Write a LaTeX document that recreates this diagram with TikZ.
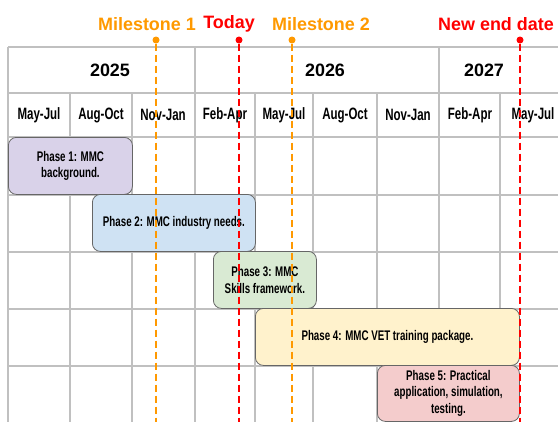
\documentclass[tikz,border=0pt]{standalone}
\usepackage{fontspec}
\setmainfont{Liberation Sans}
\newfontfamily\narrowfont[FakeStretch=0.7]{Liberation Sans}
\usetikzlibrary{positioning}
\definecolor{msorange}{HTML}{FF9900}
\definecolor{msred}{HTML}{FF0000}
\definecolor{gridgray}{HTML}{C0C0C0}
\definecolor{boxedge}{HTML}{666666}
\definecolor{phpurple}{HTML}{D9D2E9}
\definecolor{phblue}{HTML}{CFE2F3}
\definecolor{phgreen}{HTML}{D9EAD3}
\definecolor{phyellow}{HTML}{FFF2CC}
\definecolor{phred}{HTML}{F4CCCC}

\begin{document}
\begin{tikzpicture}[
    x=1bp, y=-1bp,
    gridline/.style={gridgray, line width=1.2bp},
    yearlbl/.style={font=\fontsize{18}{20}\selectfont\bfseries},
    monthlbl/.style={font=\narrowfont\fontsize{16.5}{18}\selectfont\bfseries},
    phase/.style={rectangle, rounded corners=8bp, fill=#1, draw=boxedge, line width=0.8bp, anchor=north west, align=center, inner sep=2bp, font=\narrowfont\fontsize{14}{17}\selectfont\bfseries},
    msline/.style={#1, line width=1.8bp, dash pattern=on 7bp off 4bp},
    msdot/.style={circle, fill=#1, inner sep=0pt, minimum size=7bp},
    mslbl/.style={font=\fontsize{18}{20}\selectfont\bfseries, text=#1}
  ]
  \clip (0,0) rectangle (558,422);

  % Grid lines
  \foreach \y in {47,93,137,195,252,309,366} {
    \draw[gridline] (8,\y) -- (562,\y);
  }
  \foreach \x in {8,195,439} {
    \draw[gridline] (\x,47) -- (\x,422);
  }
  \foreach \x in {70,132,255,313,377,500} {
    \draw[gridline] (\x,93) -- (\x,422);
  }

  % Years
  \node[yearlbl] (y2025) at (110,70) {2025};
  \node[yearlbl] (y2026) at (325,70) {2026};
  \node[yearlbl] (y2027) at (484,70) {2027};

  % Quarters
  \foreach \x/\m [count=\i] in {39/May-Jul, 101/Aug-Oct, 163/Nov-Jan, 225/Feb-Apr, 284/May-Jul, 345/Aug-Oct, 408/Nov-Jan, 470/Feb-Apr, 533/May-Jul} {
    \node[monthlbl] (q\i) at (\x,115) {\m};
  }

  % Phases
  \node[phase=phpurple, minimum width=124bp, minimum height=57bp] (ph1) at (8,137) {Phase 1: MMC\\background.};
  \node[phase=phblue, minimum width=163bp, minimum height=57bp] (ph2) at (92,194) {Phase 2: MMC industry needs.};
  \node[phase=phgreen, minimum width=103bp, minimum height=57bp] (ph3) at (213,251) {Phase 3: MMC\\Skills framework.};
  \node[phase=phyellow, minimum width=264bp, minimum height=57bp] (ph4) at (255,308) {Phase 4: MMC VET training package.};
  \node[phase=phred, minimum width=142bp, minimum height=56bp] (ph5) at (377,365) {Phase 5: Practical\\application, simulation,\\testing.};

  % Milestones
  \node[msdot=msorange] (ms1) at (156,40) {};
  \coordinate (ms1end) at (156,422);
  \draw[msline=msorange] (ms1) -- (ms1end);
  \node[mslbl=msorange] (ms1lbl) at (147,24) {Milestone 1};

  \node[msdot=msred] (today) at (239,40) {};
  \coordinate (todayend) at (239,422);
  \draw[msline=msred] (today) -- (todayend);
  \node[mslbl=msred] (todaylbl) at (229,24) {Today};

  \node[msdot=msorange] (ms2) at (292,40) {};
  \coordinate (ms2end) at (292,422);
  \draw[msline=msorange] (ms2) -- (ms2end);
  \node[mslbl=msorange] (ms2lbl) at (321,24) {Milestone 2};

  \node[msdot=msred] (enddate) at (520,40) {};
  \coordinate (enddateend) at (520,422);
  \draw[msline=msred] (enddate) -- (enddateend);
  \node[mslbl=msred] (enddatelbl) at (496,24) {New end date};

\end{tikzpicture}
\end{document}
